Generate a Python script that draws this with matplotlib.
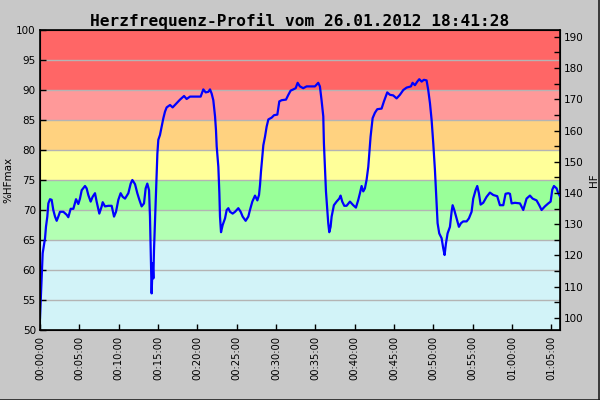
import matplotlib
matplotlib.use('Agg')
import matplotlib.pyplot as plt
from matplotlib.lines import Line2D

# time in minutes since start, heart rate in %HFmax
minutes = [
    0.00, 0.21, 0.34, 0.51, 0.64, 0.76, 0.93, 1.06, 1.27, 1.48, 1.69, 1.91, 2.12, 2.33, 2.54,
    2.97, 3.39, 3.60, 3.90, 4.24, 4.58, 4.87, 5.08, 5.30, 5.72, 5.93, 6.14, 6.44, 6.69, 6.99,
    7.20, 7.54, 7.84, 7.97, 8.26, 8.69, 9.11, 9.41, 9.66, 9.96, 10.25, 10.51, 10.81, 11.23,
    11.53, 11.74, 12.08, 12.37, 12.63, 12.92, 13.22, 13.43, 13.64, 13.86, 13.98, 14.11, 14.19,
    14.32, 14.41, 14.49, 14.62, 14.75, 14.83, 14.92, 15.04, 15.25, 15.47, 15.68, 15.89, 16.10,
    16.53, 16.86, 17.37, 17.80, 18.31, 18.64, 19.07, 19.92, 20.42, 20.76, 21.06, 21.40, 21.61,
    21.82, 22.03, 22.25, 22.37, 22.46, 22.67, 22.80, 22.88, 23.01, 23.22, 23.52, 23.73, 23.94,
    24.15, 24.49, 24.79, 25.21, 25.51, 25.76, 26.14, 26.48, 26.69, 26.99, 27.33, 27.63, 27.84,
    27.97, 28.09, 28.26, 28.39, 28.60, 28.81, 29.03, 29.45, 29.75, 30.17, 30.42, 30.72, 31.27,
    31.57, 31.86, 32.20, 32.50, 32.75,
    33.04, 33.46, 33.89, 34.95, 35.37, 35.58, 35.79, 36.01, 36.09, 36.22, 36.35, 36.51, 36.64,
    36.77, 36.94, 37.07, 37.36, 37.70, 38.04, 38.21, 38.42, 38.68, 38.97, 39.40, 39.82, 40.16,
    40.46, 40.67, 40.88, 41.09, 41.30, 41.51, 41.73, 41.85, 42.02, 42.28, 42.57, 42.87, 43.42,
    43.72, 44.14, 44.48, 44.90, 45.33, 45.75, 46.18, 46.60, 47.15, 47.36, 47.66, 47.96, 48.21,
    48.51, 48.80, 49.14, 49.35, 49.57, 49.78, 49.99, 50.20, 50.41, 50.54, 50.75, 51.05, 51.26,
    51.43, 51.60, 51.81, 52.11, 52.32, 52.45, 52.66, 52.96, 53.25, 53.51, 53.80, 54.23, 54.52,
    54.86, 55.07, 55.37, 55.58, 55.79, 56.01, 56.34, 56.77, 57.19, 57.62, 58.12, 58.46, 58.89,
    59.18, 59.52, 59.74, 59.95, 60.37, 61.01, 61.43, 61.85, 62.28, 62.62, 63.12, 63.46, 63.76,
    64.18, 64.61, 64.91, 65.12, 65.33, 65.67, 65.88, 66.09,
]
hf_pct = [
    52.0, 58.5, 62.8, 64.2, 65.3, 67.2, 68.9, 71.1, 71.8, 71.7, 70.0, 68.9, 68.2, 68.9, 69.7,
    69.7, 69.2, 68.8, 70.2, 70.2, 71.8, 71.0, 71.9, 73.3, 74.0, 73.6, 72.5, 71.4, 72.2, 72.8,
    71.4, 69.4, 70.6, 71.3, 70.6, 70.7, 70.7, 68.9, 69.7, 71.7, 72.8, 72.2, 71.9, 72.8,
    74.4, 75.0, 74.3, 72.8, 71.7, 70.6, 71.1, 73.6, 74.4, 73.3, 68.9, 60.6, 56.1,
    61.1, 58.6, 63.3, 68.3, 72.8, 76.1, 79.4, 81.7, 82.5, 83.9, 85.3, 86.4, 87.1,
    87.5, 87.1, 87.8, 88.4, 89.0, 88.5, 88.9, 88.9, 88.9, 90.1, 89.6, 89.7, 90.1,
    89.4, 88.3, 85.6, 83.3, 80.6, 77.2, 72.8, 68.9, 66.3, 67.5, 68.6, 70.0, 70.3,
    69.7, 69.4, 69.7, 70.3, 69.7, 68.9, 68.2, 68.9, 70.0, 71.4, 72.4, 71.6, 72.5,
    74.2, 76.4, 78.9, 80.8, 82.2, 83.9, 85.1, 85.4, 85.8, 85.9, 88.1, 88.3, 88.4,
    89.2, 89.9, 90.1, 90.3, 91.2,
    90.6, 90.3, 90.6, 90.6, 91.2, 90.6, 88.3, 85.6, 81.1, 76.9, 73.1, 70.3, 67.8,
    66.3, 67.2, 68.9, 70.8, 71.4, 71.9, 72.4, 71.4, 70.7, 70.7, 71.4, 70.8, 70.4,
    71.7, 72.8, 74.0, 73.1, 73.6, 75.0, 77.2, 79.2, 82.2, 85.3, 86.2, 86.8, 86.9,
    88.1, 89.6, 89.2, 89.1, 88.6, 89.2, 90.0, 90.4, 90.6, 91.2, 90.8, 91.4, 91.8,
    91.4, 91.7, 91.6, 90.0, 87.8, 85.0, 81.1, 76.7, 71.1, 67.8, 66.1, 65.3, 63.6,
    62.5, 64.4, 66.1, 67.2, 69.7, 70.8, 70.0, 68.6, 67.2, 67.8, 68.1, 68.1, 68.6,
    69.7, 71.9, 73.3, 74.0, 72.8, 70.9, 71.2, 72.2, 72.9, 72.5, 72.3, 70.8, 70.8,
    72.7, 72.8, 72.7, 71.1, 71.2, 71.1, 70.0, 71.9, 72.4, 71.9, 71.6, 70.8, 70.0,
    70.6, 71.1, 71.4, 73.4, 74.0, 73.6, 72.8, 72.3,
]

# training zones (%HFmax)
zone_lo = [50, 65, 70, 75, 80, 85, 90]
zone_hi = [65, 70, 75, 80, 85, 90, 100]
zone_colors = ['#d2f3f8', '#b3ffb3', '#99ff99', '#ffff99', '#ffd280', '#ff9999', '#ff6666']

hf_max = 192.2
tick_minutes = list(range(0, 66, 5))
tick_labels = ['%02d:%02d:00' % (m // 60, m % 60) for m in tick_minutes]

BG = '#c8c8c8'

fig = plt.figure(figsize=(6, 4), dpi=100, facecolor=BG)
ax = fig.add_axes([40 / 600, 70 / 400, 520 / 600, 300 / 400])

for lo, hi, c in zip(zone_lo, zone_hi, zone_colors):
    ax.axhspan(lo, hi, color=c, lw=0, zorder=0)
for y in range(55, 100, 5):
    ax.axhline(y, color='#b4b4b4', lw=1.0, zorder=1)

ax.plot(minutes, hf_pct, color='#0000ff', lw=1.6, zorder=3)

ax.set_xlim(0, 66.1)
ax.set_ylim(50, 100)
ax.set_yticks(range(50, 101, 5))
ax.set_xticks(tick_minutes)
ax.set_xticklabels(tick_labels, rotation=90)
ax.tick_params(direction='in', length=4, width=1, labelsize=7.5, pad=3)
ax.tick_params(axis='x', labelsize=7.2, pad=4)
ax.set_ylabel('%HFmax', fontsize=7.5, labelpad=2)
for s in ax.spines.values():
    s.set_linewidth(1.2)

ax2 = ax.twinx()
ax2.set_ylim(50 * hf_max / 100, hf_max)
ax2.set_yticks(range(100, 191, 10))
ax2.set_yticks(range(100, 191, 5), minor=True)
ax2.tick_params(which='both', direction='in', length=4, width=1, labelsize=7.5, pad=3)
ax2.set_ylabel('HF', fontsize=7.5, labelpad=4)

fig.suptitle('Herzfrequenz-Profil vom 26.01.2012 18:41:28', y=0.967,
             fontsize=11.6, family='DejaVu Sans Mono', fontweight='bold')

# dark edge at right and bottom of the image
fig.add_artist(Line2D([0, 1], [0.0012, 0.0012], color='#202020', lw=1.2, transform=fig.transFigure))
fig.add_artist(Line2D([0.999, 0.999], [0, 1], color='#202020', lw=1.2, transform=fig.transFigure))

fig.savefig('out.png', dpi=100, facecolor=BG)
